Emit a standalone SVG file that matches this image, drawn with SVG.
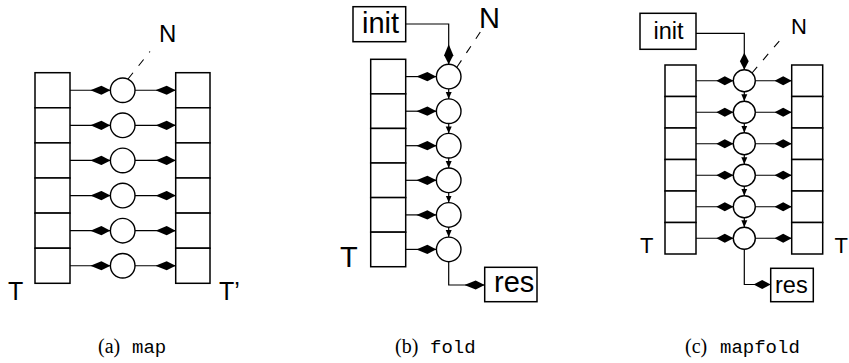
<svg xmlns="http://www.w3.org/2000/svg" width="849" height="363" viewBox="0 0 849 363">
<style>
.cell{fill:#fff;stroke:#000;stroke-width:1.5}
.node{fill:#fff;stroke:#000;stroke-width:1.4}
.box{fill:#fff;stroke:#000;stroke-width:1.5}
.ln{fill:none;stroke:#000;stroke-width:1.2}
.dash{fill:none;stroke:#000;stroke-width:1.1;stroke-dasharray:8 9}
.lbl{font-family:"Liberation Sans",Arial,sans-serif;fill:#000}
.cap{font-family:"Liberation Serif","Times New Roman",serif;font-size:20px;fill:#000}
.tt{font-family:"Liberation Mono","Courier New",monospace;font-size:19px;fill:#000}
</style>
<defs>
<marker id="arr" markerUnits="userSpaceOnUse" viewBox="0 -5 20 10" markerWidth="20" markerHeight="10" refX="20" refY="0" orient="auto">
<path d="M0,0 L11,-4.6 L20,0 L11,4.6 Z" fill="#000"/>
</marker>
<marker id="arrs" markerUnits="userSpaceOnUse" viewBox="0 -5 17 10" markerWidth="17" markerHeight="10" refX="17" refY="0" orient="auto">
<path d="M0,0 L8.5,-4.4 L17,0 L8.5,4.4 Z" fill="#000"/>
</marker>
<marker id="tiny" markerUnits="userSpaceOnUse" viewBox="0 -3.5 7 7" markerWidth="7" markerHeight="7" refX="7" refY="0" orient="auto">
<path d="M0,-3 L7,0 L0,3 Z" fill="#000"/>
</marker>
</defs>

<!-- Panel (a) map -->
<g id="a-T">
<rect class="cell" x="35" y="72.7" width="35" height="35.1"/>
<rect class="cell" x="35" y="107.8" width="35" height="35.1"/>
<rect class="cell" x="35" y="142.9" width="35" height="35.1"/>
<rect class="cell" x="35" y="178" width="35" height="35.1"/>
<rect class="cell" x="35" y="213.1" width="35" height="35.1"/>
<rect class="cell" x="35" y="248.2" width="35" height="35.1"/>
<text class="lbl" x="8" y="300" font-size="25">T</text>
</g>
<g id="a-T2">
<rect class="cell" x="175.7" y="72.7" width="34.3" height="35.1"/>
<rect class="cell" x="175.7" y="107.8" width="34.3" height="35.1"/>
<rect class="cell" x="175.7" y="142.9" width="34.3" height="35.1"/>
<rect class="cell" x="175.7" y="178" width="34.3" height="35.1"/>
<rect class="cell" x="175.7" y="213.1" width="34.3" height="35.1"/>
<rect class="cell" x="175.7" y="248.2" width="34.3" height="35.1"/>
<text class="lbl" x="219" y="300" font-size="25">T’</text>
</g>
<g id="a-N">
<circle class="node" cx="122.7" cy="90.25" r="12.3"/>
<circle class="node" cx="122.7" cy="125.35" r="12.3"/>
<circle class="node" cx="122.7" cy="160.45" r="12.3"/>
<circle class="node" cx="122.7" cy="195.55" r="12.3"/>
<circle class="node" cx="122.7" cy="230.65" r="12.3"/>
<circle class="node" cx="122.7" cy="265.75" r="12.3"/>
<text class="lbl" x="159" y="42" font-size="24">N</text>
</g>
<g id="a-caption">
<text class="cap" x="98" y="353">(a)</text>
<text class="tt" x="132" y="353">map</text>
</g>

<!-- Panel (b) fold -->
<g id="b-init">
<rect class="box" x="353" y="6.7" width="52.7" height="35"/>
<text class="lbl" x="362" y="33.3" font-size="29">init</text>
</g>
<g id="b-T">
<rect class="cell" x="370.7" y="59.3" width="35" height="34.57"/>
<rect class="cell" x="370.7" y="93.87" width="35" height="34.57"/>
<rect class="cell" x="370.7" y="128.44" width="35" height="34.57"/>
<rect class="cell" x="370.7" y="163.01" width="35" height="34.57"/>
<rect class="cell" x="370.7" y="197.58" width="35" height="34.57"/>
<rect class="cell" x="370.7" y="232.15" width="35" height="34.57"/>
<text class="lbl" x="340" y="266.7" font-size="29">T</text>
</g>
<g id="b-N">
<circle class="node" cx="448.7" cy="76.6" r="12.3"/>
<circle class="node" cx="448.7" cy="111.2" r="12.3"/>
<circle class="node" cx="448.7" cy="145.7" r="12.3"/>
<circle class="node" cx="448.7" cy="180.3" r="12.3"/>
<circle class="node" cx="448.7" cy="214.9" r="12.3"/>
<circle class="node" cx="448.7" cy="249.4" r="12.3"/>
<text class="lbl" x="479" y="28" font-size="29">N</text>
</g>
<g id="b-res">
<rect class="box" x="484.7" y="267.3" width="52.3" height="34.4"/>
<text class="lbl" x="494" y="292" font-size="29">res</text>
</g>
<g id="b-caption">
<text class="cap" x="395" y="353">(b)</text>
<text class="tt" x="430" y="353">fold</text>
</g>

<!-- Panel (c) mapfold -->
<g id="c-init">
<rect class="box" x="640" y="13.3" width="56" height="36"/>
<text class="lbl" x="653.5" y="38.5" font-size="23.5">init</text>
</g>
<g id="c-T">
<rect class="cell" x="665" y="65" width="31" height="31.5"/>
<rect class="cell" x="665" y="96.5" width="31" height="31.5"/>
<rect class="cell" x="665" y="128" width="31" height="31.5"/>
<rect class="cell" x="665" y="159.5" width="31" height="31.5"/>
<rect class="cell" x="665" y="191" width="31" height="31.5"/>
<rect class="cell" x="665" y="222.5" width="31" height="31.5"/>
<text class="lbl" x="640" y="253" font-size="22">T</text>
</g>
<g id="c-T2">
<rect class="cell" x="791.7" y="65" width="31" height="31.5"/>
<rect class="cell" x="791.7" y="96.5" width="31" height="31.5"/>
<rect class="cell" x="791.7" y="128" width="31" height="31.5"/>
<rect class="cell" x="791.7" y="159.5" width="31" height="31.5"/>
<rect class="cell" x="791.7" y="191" width="31" height="31.5"/>
<rect class="cell" x="791.7" y="222.5" width="31" height="31.5"/>
<text class="lbl" x="834.5" y="253" font-size="22">T</text>
</g>
<g id="c-N">
<circle class="node" cx="744.3" cy="80.75" r="11"/>
<circle class="node" cx="744.3" cy="112.25" r="11"/>
<circle class="node" cx="744.3" cy="143.75" r="11"/>
<circle class="node" cx="744.3" cy="175.25" r="11"/>
<circle class="node" cx="744.3" cy="206.75" r="11"/>
<circle class="node" cx="744.3" cy="238.25" r="11"/>
<text class="lbl" x="791" y="34" font-size="22">N</text>
</g>
<g id="c-res">
<rect class="box" x="770.7" y="268.3" width="42.6" height="33.4"/>
<text class="lbl" x="775" y="293.3" font-size="23.5">res</text>
</g>
<g id="c-caption">
<text class="cap" x="685" y="353">(c)</text>
<text class="tt" x="720" y="353">mapfold</text>
</g>

<g id="connectors">
<!-- (a) -->
<path class="dash" d="M128,79 L150,51.5"/>
<g marker-end="url(#arr)" class="ln">
<path d="M70,90.25 H110.4"/><path d="M70,125.35 H110.4"/><path d="M70,160.45 H110.4"/>
<path d="M70,195.55 H110.4"/><path d="M70,230.65 H110.4"/><path d="M70,265.75 H110.4"/>
<path d="M135,90.25 H175.7"/><path d="M135,125.35 H175.7"/><path d="M135,160.45 H175.7"/>
<path d="M135,195.55 H175.7"/><path d="M135,230.65 H175.7"/><path d="M135,265.75 H175.7"/>
</g>
<!-- (b) -->
<path class="dash" d="M457,67 L481,31"/>
<g marker-end="url(#arr)" class="ln">
<path d="M405.7,24 H448.7 V64.3"/>
<path d="M405.7,76.6 H436.4"/><path d="M405.7,111.2 H436.4"/><path d="M405.7,145.7 H436.4"/>
<path d="M405.7,180.3 H436.4"/><path d="M405.7,214.9 H436.4"/><path d="M405.7,249.4 H436.4"/>
<path d="M448.7,261.7 V285 H484.7"/>
</g>
<g marker-end="url(#tiny)" class="ln">
<path d="M448.7,88.9 V98.9"/><path d="M448.7,123.5 V133.4"/><path d="M448.7,158 V168"/>
<path d="M448.7,192.6 V202.6"/><path d="M448.7,227.2 V237.1"/>
</g>
<!-- (c) -->
<path class="dash" d="M752,73 L781,39"/>
<g marker-end="url(#arrs)" class="ln">
<path d="M696,33.3 H744.3 V69.75"/>
<path d="M696,80.75 H733.3"/><path d="M696,112.25 H733.3"/><path d="M696,143.75 H733.3"/>
<path d="M696,175.25 H733.3"/><path d="M696,206.75 H733.3"/><path d="M696,238.25 H733.3"/>
<path d="M755.3,80.75 H791.7"/><path d="M755.3,112.25 H791.7"/><path d="M755.3,143.75 H791.7"/>
<path d="M755.3,175.25 H791.7"/><path d="M755.3,206.75 H791.7"/><path d="M755.3,238.25 H791.7"/>
<path d="M744.3,249.25 V284.5 H770.7"/>
</g>
<g marker-end="url(#tiny)" class="ln">
<path d="M744.3,91.75 V101.25"/><path d="M744.3,123.25 V132.75"/><path d="M744.3,154.75 V164.25"/>
<path d="M744.3,186.25 V195.75"/><path d="M744.3,217.75 V227.25"/>
</g>
</g>
</svg>
